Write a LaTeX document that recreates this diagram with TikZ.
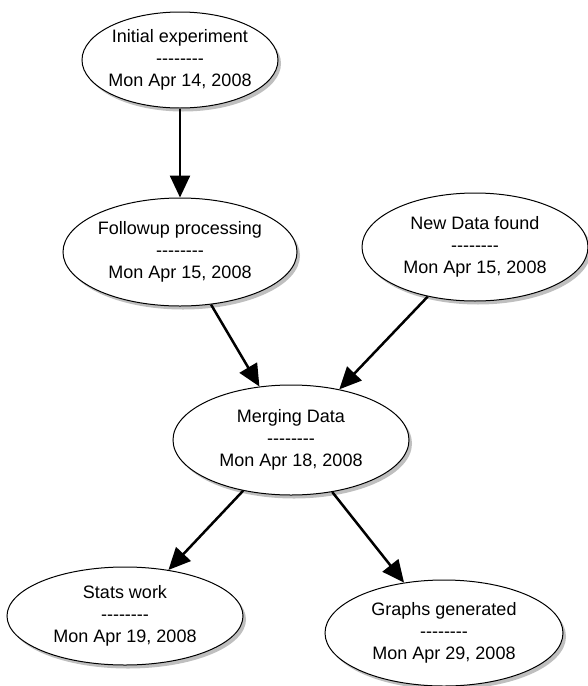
\documentclass[tikz,border=0pt]{standalone}
\usepackage{fontspec}
\setmainfont{Liberation Sans}[Ligatures=TeXOff]
\usetikzlibrary{shapes.geometric,shadows,arrows.meta}
\tikzset{
  event/.style={ellipse, draw, line width=1pt, fill=white, inner sep=0pt,
    drop shadow={shadow xshift=3pt, shadow yshift=-3.5pt, opacity=0.5}},
  evtext/.style={align=center, inner sep=0pt, font=\fontsize{18}{22}\selectfont},
  flow/.style={-{Triangle[length=22pt,width=20pt]}, line width=2.5pt}
}
\begin{document}
\begin{tikzpicture}[x=1pt,y=-1pt]
\useasboundingbox (0,0) rectangle (588,686);
% events
\node[event, minimum width=196pt, minimum height=96pt,
  label={[evtext]center:Initial experiment\\--------\\Mon Apr 14, 2008}] (init) at (180,60) {};
\node[event, minimum width=234pt, minimum height=108pt,
  label={[evtext]center:Followup processing\\--------\\Mon Apr 15, 2008}] (followup) at (180,252) {};
\node[event, minimum width=226pt, minimum height=108pt,
  label={[evtext]center:New Data found\\--------\\Mon Apr 15, 2008}] (newdata) at (475,247) {};
\node[event, minimum width=236pt, minimum height=110pt,
  label={[evtext]center:Merging Data\\--------\\Mon Apr 18, 2008}] (merging) at (291,440) {};
\node[event, minimum width=236pt, minimum height=98pt,
  label={[evtext]center:Stats work\\--------\\Mon Apr 19, 2008}] (stats) at (125,616) {};
\node[event, minimum width=238pt, minimum height=106pt,
  label={[evtext]center:Graphs generated\\--------\\Mon Apr 29, 2008}] (graphs) at (444,633) {};
% dependencies
\draw[flow] (init) -- (followup);
\draw[flow] (followup) -- (merging);
\draw[flow] (newdata) -- (merging);
\draw[flow] (merging) -- (stats);
\draw[flow] (merging) -- (graphs);
\end{tikzpicture}
\end{document}
